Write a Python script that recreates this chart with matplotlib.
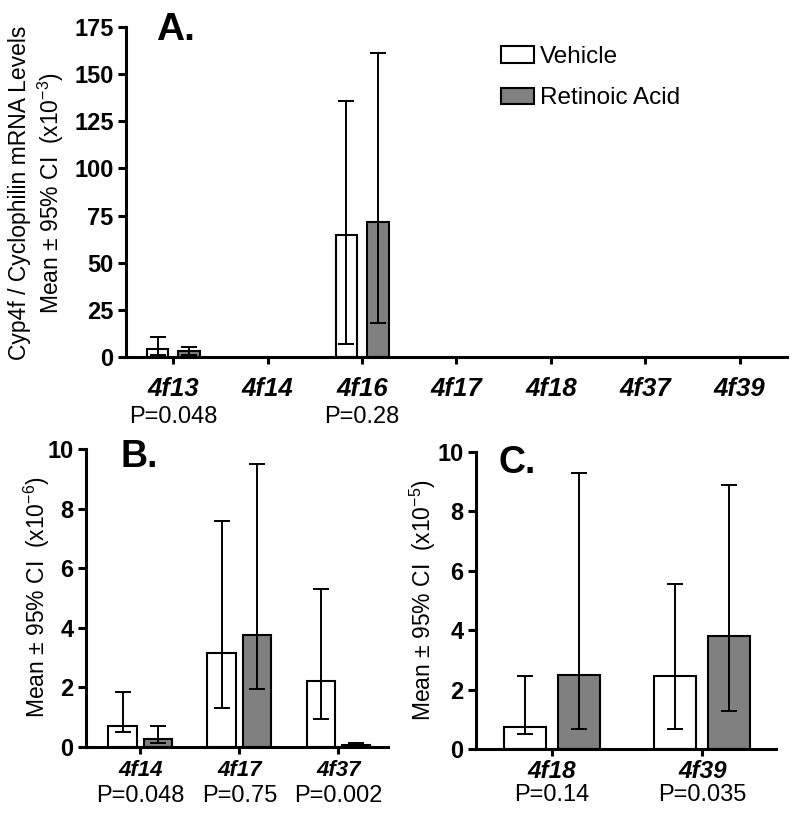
import matplotlib
matplotlib.use('Agg')
import matplotlib.pyplot as plt
from matplotlib.patches import Patch
import numpy as np

plt.rcParams['font.family'] = ['Liberation Sans', 'DejaVu Sans']
plt.rcParams['mathtext.fontset'] = 'custom'
plt.rcParams['mathtext.rm'] = 'Liberation Sans'

# Panel A  (x10^-3)
genes_a = ['4f13', '4f14', '4f16', '4f17', '4f18', '4f37', '4f39']
p_a = ['P=0.048', '', 'P=0.28', '', '', '', '']
veh_a = [4.5, 0, 64.5, 0, 0, 0, 0]
veh_a_lo = [1.0, 0, 7.0, 0, 0, 0, 0]
veh_a_hi = [10.5, 0, 135.5, 0, 0, 0, 0]
ra_a = [3.0, 0, 71.5, 0, 0, 0, 0]
ra_a_lo = [1.0, 0, 18.0, 0, 0, 0, 0]
ra_a_hi = [5.5, 0, 161.0, 0, 0, 0, 0]

# Panel B  (x10^-6)
genes_b = ['4f14', '4f17', '4f37']
p_b = ['P=0.048', 'P=0.75', 'P=0.002']
veh_b = [0.70, 3.15, 2.20]
veh_b_lo = [0.50, 1.30, 0.95]
veh_b_hi = [1.85, 7.60, 5.30]
ra_b = [0.27, 3.77, 0.07]
ra_b_lo = [0.15, 1.95, 0.02]
ra_b_hi = [0.70, 9.50, 0.14]

# Panel C  (x10^-5)
genes_c = ['4f18', '4f39']
p_c = ['P=0.14', 'P=0.035']
veh_c = [0.75, 2.45]
veh_c_lo = [0.50, 0.67]
veh_c_hi = [2.47, 5.57]
ra_c = [2.48, 3.80]
ra_c_lo = [0.67, 1.28]
ra_c_hi = [9.28, 8.90]

GRAY = '#808080'
W, H = 800, 817
fig = plt.figure(figsize=(8, 8.17), dpi=100)


def px_axes(l, t, r, b):
    return fig.add_axes([l / W, 1 - b / H, (r - l) / W, (b - t) / H])


def draw_panel(ax, genes, pvals, veh, vlo, vhi, ra, rlo, rhi, width, off,
               ylim, yticks, xlim, lab_off, p_off, lab_size, draw_mask=None):
    x = np.arange(len(genes))
    for i in range(len(genes)):
        if draw_mask is not None and not draw_mask[i]:
            continue
        for xx, m, lo, hi, fc in [(x[i] - off, veh[i], vlo[i], vhi[i], 'white'),
                                  (x[i] + off, ra[i], rlo[i], rhi[i], GRAY)]:
            ax.bar(xx, m, width=width, color=fc, edgecolor='black', linewidth=1.5, zorder=2)
            ax.errorbar(xx, m, yerr=[[m - lo], [hi - m]], fmt='none', ecolor='black',
                        elinewidth=1.4, capsize=6, capthick=1.4, zorder=3)
    ax.set_xlim(*xlim)
    ax.set_ylim(*ylim)
    ax.set_yticks(yticks)
    ax.set_xticks(x)
    ax.set_xticklabels([])
    for s in ['top', 'right']:
        ax.spines[s].set_visible(False)
    for s in ['left', 'bottom']:
        ax.spines[s].set_linewidth(2.2)
    ax.tick_params(axis='y', length=6, width=2.2, labelsize=17, pad=3)
    ax.tick_params(axis='x', length=5, width=2.2)
    for lab in ax.get_yticklabels():
        lab.set_fontweight('bold')
    for i, g in enumerate(genes):
        ax.annotate(g, xy=(x[i], 0), xycoords=('data', 'axes fraction'),
                    xytext=(0, -lab_off), textcoords='offset points',
                    ha='center', va='center', fontsize=lab_size, fontweight='bold', style='italic')
        if pvals[i]:
            ax.annotate(pvals[i], xy=(x[i], 0), xycoords=('data', 'axes fraction'),
                        xytext=(0, -p_off), textcoords='offset points',
                        ha='center', va='center', fontsize=17)


# Panel A
ax_a = px_axes(126, 27, 787, 357)
draw_panel(ax_a, genes_a, p_a, veh_a, veh_a_lo, veh_a_hi, ra_a, ra_a_lo, ra_a_hi,
           0.23, 0.165, (0, 175), np.arange(0, 176, 25), (-0.5, 6.5), 23, 43, 18.5,
           draw_mask=[v > 0 for v in veh_a])
fig.text(37 / W, 1 - 193 / H, 'Cyp4f / Cyclophilin mRNA Levels\nMean \u00b1 95% CI  (x10$^{-3}$)',
         rotation=90, ha='center', va='center', fontsize=16.5, multialignment='center',
         linespacing=1.2)
fig.text(175 / W, 1 - 30 / H, 'A.', fontsize=28, fontweight='bold', ha='center', va='center')

# legend
handles = [Patch(facecolor='white', edgecolor='black', linewidth=1.5, label='Vehicle'),
           Patch(facecolor=GRAY, edgecolor='black', linewidth=1.5, label='Retinoic Acid')]
fig.legend(handles=handles, loc='upper left', bbox_to_anchor=(501 / W, 1 - 46 / H),
           frameon=False, fontsize=17.5, borderpad=0, borderaxespad=0,
           handlelength=1.36, handleheight=0.66, handletextpad=0.25, labelspacing=0.8)

# Panel B
ax_b = px_axes(86, 449, 388, 747)
draw_panel(ax_b, genes_b, p_b, veh_b, veh_b_lo, veh_b_hi, ra_b, ra_b_lo, ra_b_hi,
           0.29, 0.178, (0, 10), np.arange(0, 11, 2), (-0.55, 2.5), 17, 35, 16)
fig.text(37 / W, 1 - 597 / H, 'Mean \u00b1 95% CI  (x10$^{-6}$)', rotation=90,
         ha='center', va='center', fontsize=16.5)
fig.text(139 / W, 1 - 457 / H, 'B.', fontsize=27, fontweight='bold', ha='center', va='center')

# Panel C
ax_c = px_axes(476, 452, 776, 749)
draw_panel(ax_c, genes_c, p_c, veh_c, veh_c_lo, veh_c_hi, ra_c, ra_c_lo, ra_c_hi,
           0.28, 0.18, (0, 10), np.arange(0, 11, 2), (-0.507, 1.49), 16, 33, 17.5)
fig.text(423 / W, 1 - 600 / H, 'Mean \u00b1 95% CI  (x10$^{-5}$)', rotation=90,
         ha='center', va='center', fontsize=16.5)
fig.text(517 / W, 1 - 463 / H, 'C.', fontsize=27, fontweight='bold', ha='center', va='center')

fig.savefig('out.png', dpi=100)
